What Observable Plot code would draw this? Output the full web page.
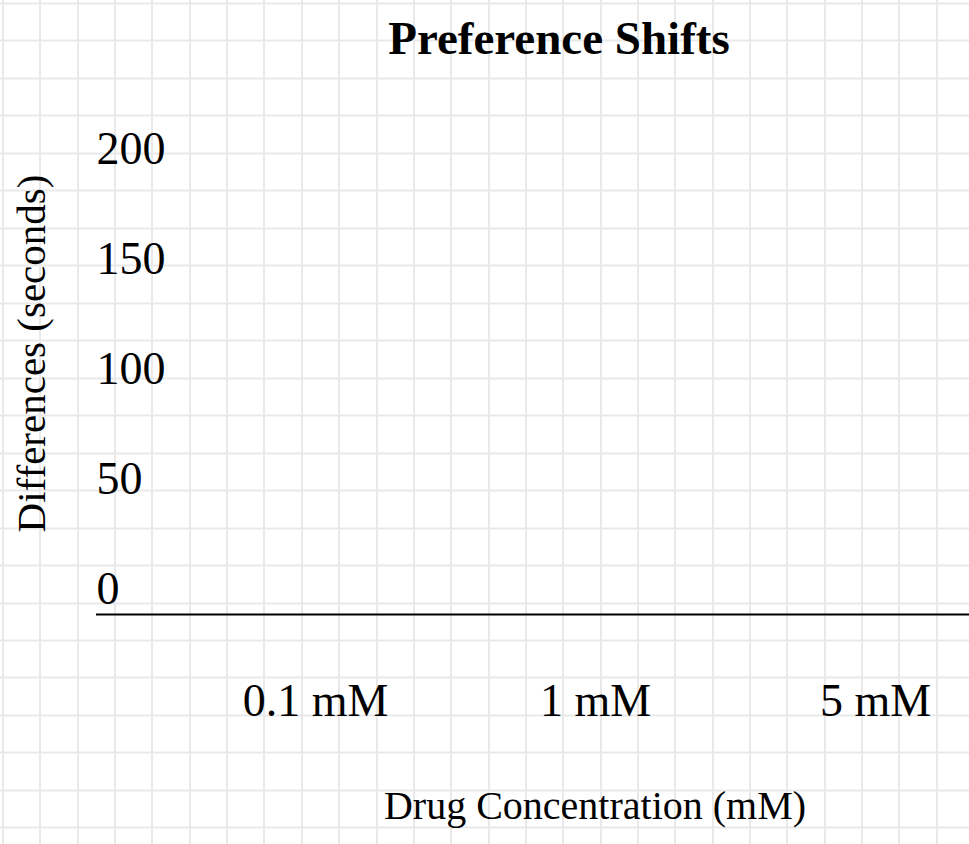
<!DOCTYPE html>
<html>
<head>
<meta charset="utf-8">
<script src="https://cdn.jsdelivr.net/npm/d3@7"></script>
<script src="https://cdn.jsdelivr.net/npm/@observablehq/plot@0.6"></script>
<style>
  html, body { margin: 0; padding: 0; background: #fff; }
  #chart {
    width: 969px; height: 844px; position: relative; overflow: hidden;
    background-color: #fff;
    background-image:
      repeating-linear-gradient(to right, #e9e9e9 0px, #e9e9e9 2px, transparent 2px, transparent 37.35px),
      repeating-linear-gradient(to bottom, #e9e9e9 0px, #e9e9e9 2px, transparent 2px, transparent 37.47px);
    background-position: 2px 0px, 0px 2.5px;
  }
  #chart svg { display: block; }
</style>
</head>
<body>
<div id="chart"></div>
<script>
// ---- chart content ----
const title = "Preference Shifts";
const concentrations = ["0.1 mM", "1 mM", "5 mM"];
const yTicks = [0, 50, 100, 150, 200];
const yMax = 240;
const xLabel = "Drug Concentration (mM)";
const yLabel = "Differences (seconds)";

const serif = "'Liberation Serif', 'Times New Roman', Times, serif";

const plot = Plot.plot({
  width: 969,
  height: 844,
  marginLeft: 96,
  marginRight: 0,
  marginTop: 86,
  marginBottom: 230,
  style: { background: "transparent", fontFamily: serif, color: "black", overflow: "visible" },
  x: { type: "point", domain: concentrations, range: [315, 875], padding: 0 },
  y: { domain: [0, yMax] },
  marks: [
    Plot.ruleY([0], { stroke: "black", strokeWidth: 2 }),
    Plot.axisY({
      ticks: yTicks, tickSize: 0, tickPadding: 0,
      textAnchor: "start", lineAnchor: "bottom", dy: -11,
      fontSize: 46, fill: "black", label: null
    }),
    Plot.axisX({
      tickSize: 0, tickPadding: 0,
      lineAnchor: "bottom", dy: 101,
      fontSize: 46, fill: "black", label: null
    }),
    Plot.text([xLabel], {
      frameAnchor: "bottom", lineAnchor: "bottom", dy: 204, dx: 62,
      fontSize: 40, fill: "black"
    }),
    Plot.text([yLabel], {
      frameAnchor: "left", textAnchor: "middle", lineAnchor: "middle",
      rotate: -90, dx: -65, dy: 3,
      fontSize: 41, fill: "black"
    }),
    Plot.text([title], {
      frameAnchor: "top", lineAnchor: "bottom", dy: -33, dx: 26,
      fontSize: 47, fontWeight: "bold", fill: "black"
    })
  ]
});

document.getElementById("chart").appendChild(plot);
</script>
</body>
</html>
